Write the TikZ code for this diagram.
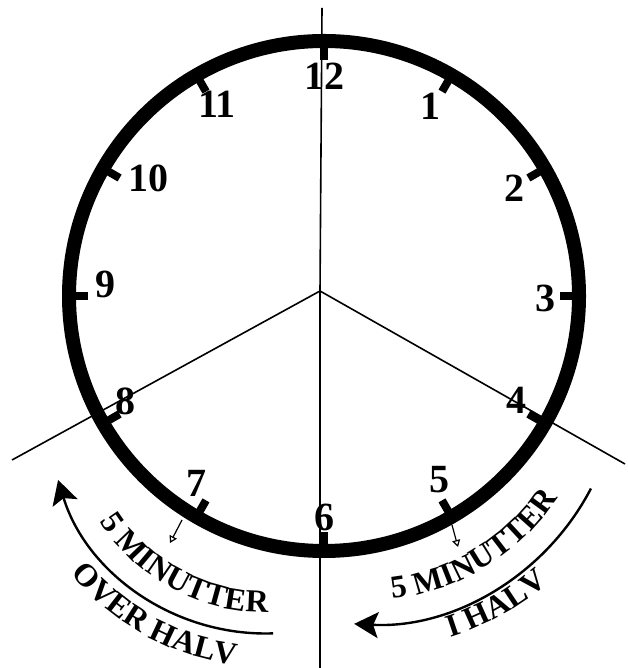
\documentclass[tikz,border=0pt]{standalone}
\usepackage{fontspec}
\setmainfont{Liberation Serif}
\usetikzlibrary{arrows.meta,calc,decorations.text}
\newcommand\clklbl{\fontsize{32}{38}\selectfont\bfseries}
\begin{document}
\begin{tikzpicture}[x=1pt,y=1pt,
  digit/.style={font=\fontsize{40}{40}\selectfont\bfseries, inner sep=0pt},
  rim/.style={line width=14pt},
  hourtick/.style={line width=8pt},
  radial/.style={line width=1.6pt},
  bigarrow/.style={line width=2.4pt, -{Stealth[length=24pt,width=26pt,inset=5pt]}},
  smallarrow/.style={line width=1.2pt, -{Triangle[open,length=7pt,width=8pt]}}
]
\useasboundingbox (0,0) rectangle (627,668);
% centres
\coordinate (C) at (324,372);
\coordinate (O) at (320,377);
\coordinate (L) at (265.6,251.5);
\coordinate (R) at (367.4,295.8);
% radial lines
\coordinate (vtop) at (322,660);
\coordinate (vbot) at (320,0);
\coordinate (lend) at (12,208);
\coordinate (rend) at (625,204);
\draw[radial] (vtop) -- (O) -- (vbot);
\draw[radial] (O) -- (lend);
\draw[radial] (O) -- (rend);
% rim
\draw[rim] (C) circle[radius=255];
\foreach \h in {1,...,12}
  \draw[hourtick] ($(C)+({90-30*\h}:249)$) -- ($(C)+({90-30*\h}:236)$);
% numerals
\node[digit] (n12) at (324,592) {12};
\node[digit] (n11) at (217,564) {11};
\node[digit] (n1)  at (430,562) {1};
\node[digit] (n10) at (148,490) {10};
\node[digit] (n9)  at (105,384) {9};
\node[digit] (n8)  at (125,267) {8};
\node[digit] (n2)  at (514,480) {2};
\node[digit] (n3)  at (545,370) {3};
\node[digit] (n4)  at (516,268) {4};
\node[digit] (n5)  at (439,188) {5};
\node[digit] (n6)  at (324,151) {6};
\node[digit] (n7)  at (196,185) {7};
% small arrows
\coordinate (a7s) at (182,148);
\coordinate (a7e) at (170,125);
\coordinate (a5s) at (452,143);
\coordinate (a5e) at (458,121);
\draw[smallarrow] (a7s) -- (a7e);
\draw[smallarrow] (a5s) -- (a5e);
% big curved arrows
\draw[bigarrow] ($(L)+(-88:217)$) arc[start angle=-88, end angle=-163, radius=217];
\draw[bigarrow] ($(R)+(-27.5:252)$) arc[start angle=-27.5, end angle=-93, radius=252];
% curved texts
\path[decorate, decoration={text along path, text align=center,
  text={|\clklbl|5 MINUTTER}}]
  ($(L)+(-153:196)$) arc[start angle=-153, end angle=-84, radius=196];
\path[decorate, decoration={text along path, text align=center,
  text={|\clklbl|OVER HALV}}]
  ($(L)+(-146:250)$) arc[start angle=-146, end angle=-92, radius=250];
\path[decorate, decoration={text along path, text align=center,
  text={|\clklbl|5 MINUTTER}}]
  ($(R)+(-88.5:228)$) arc[start angle=-88.5, end angle=-28.5, radius=228];
\path[decorate, decoration={text along path, text align=center,
  text={|\clklbl|I HALV}}]
  ($(R)+(-77:278)$) arc[start angle=-77, end angle=-45, radius=278];
\end{tikzpicture}
\end{document}
